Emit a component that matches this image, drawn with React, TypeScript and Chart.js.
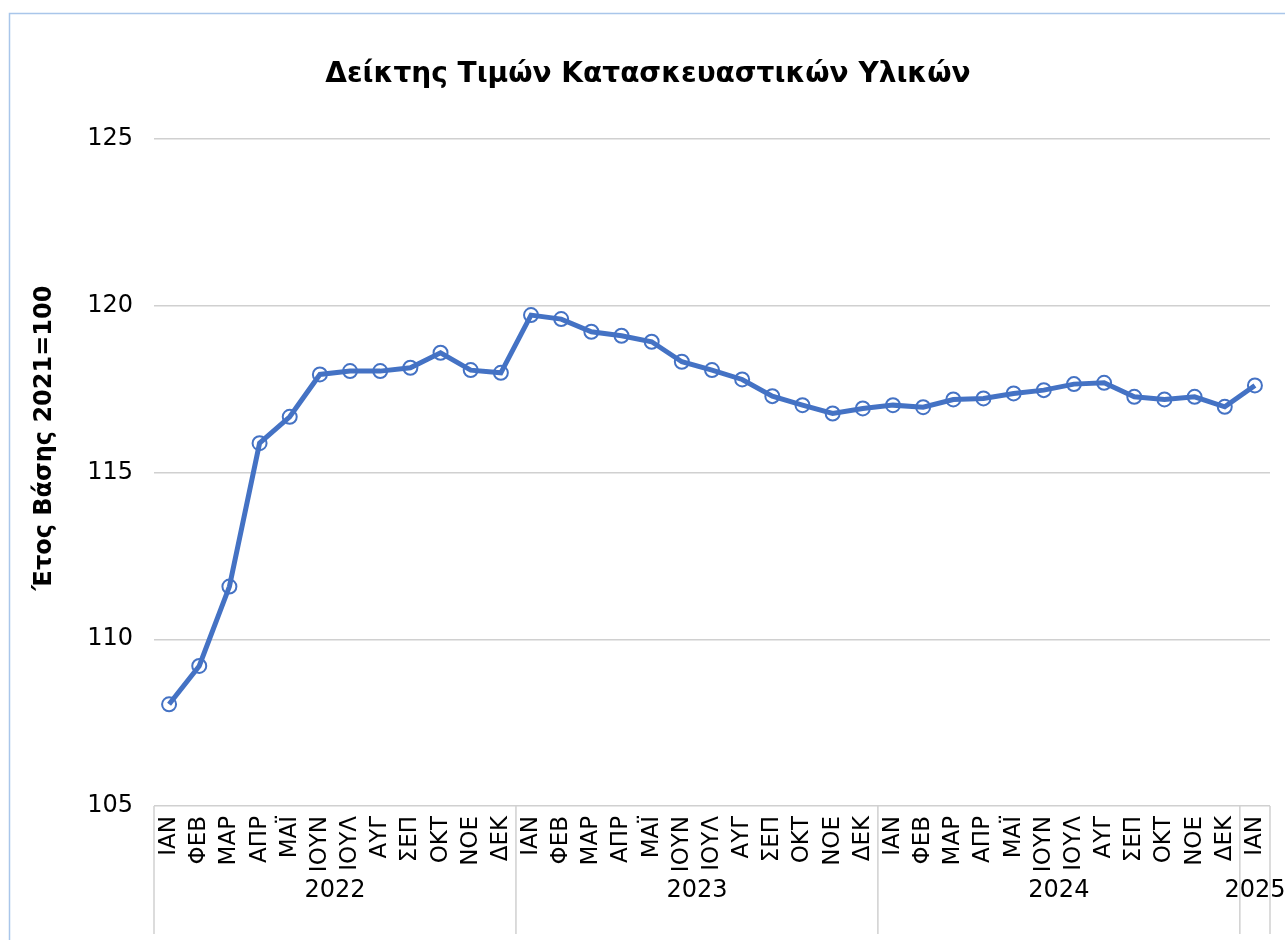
import React, { useEffect, useRef } from "react";
import { Chart, registerables } from "chart.js";

Chart.register(...registerables);

const TITLE = "Δείκτης Τιμών Κατασκευαστικών Υλικών";
const Y_TITLE = "Έτος Βάσης 2021=100";
const MONTHS = ["ΙΑΝ", "ΦΕΒ", "ΜΑΡ", "ΑΠΡ", "ΜΑΪ", "ΙΟΥΝ", "ΙΟΥΛ", "ΑΥΓ", "ΣΕΠ", "ΟΚΤ", "ΝΟΕ", "ΔΕΚ"];
const YEARS = ["2022", "2023", "2024", "2025"];
const MONTHS_PER_YEAR = [12, 12, 12, 1];

const values2022 = [108.05, 109.2, 111.58, 115.88, 116.67, 117.94, 118.04, 118.04, 118.14, 118.59, 118.07, 117.99];
const values2023 = [119.72, 119.6, 119.22, 119.1, 118.92, 118.32, 118.07, 117.79, 117.29, 117.02, 116.77, 116.92];
const values2024 = [117.02, 116.96, 117.19, 117.22, 117.37, 117.47, 117.65, 117.69, 117.27, 117.19, 117.27, 116.97];
const values2025 = [117.61];

const Y_MIN = 105;
const Y_MAX = 125;
const Y_STEP = 5;

const FONT = "'DejaVu Sans', Verdana, sans-serif";
const LINE_COLOR = "#4472C4";

const labels: string[] = [];
YEARS.forEach((_, yi) => {
  for (let m = 0; m < MONTHS_PER_YEAR[yi]; m++) labels.push(MONTHS[m]);
});
const allValues = [...values2022, ...values2023, ...values2024, ...values2025];

const decorPlugin = {
  id: "decor",
  beforeDraw(chart: any) {
    const { ctx, width, height } = chart;
    ctx.save();
    ctx.fillStyle = "#ffffff";
    ctx.fillRect(0, 0, width, height);
    ctx.strokeStyle = "#a9c6ea";
    ctx.lineWidth = 1.5;
    ctx.strokeRect(9.5, 13.5, width + 20, height + 20);
    ctx.restore();
  },
  afterDraw(chart: any) {
    const { ctx, chartArea } = chart;
    ctx.save();
    // y-axis title
    ctx.translate(45, 438);
    ctx.rotate(-Math.PI / 2);
    ctx.font = `bold 24px ${FONT}`;
    ctx.fillStyle = "#000000";
    ctx.textAlign = "center";
    ctx.textBaseline = "middle";
    ctx.fillText(Y_TITLE, 0, 0);
    ctx.restore();

    // year grouping row
    const n = labels.length;
    const w = (chartArea.right - chartArea.left) / n;
    const bottom = 934;
    ctx.save();
    ctx.strokeStyle = "#d0d0d0";
    ctx.lineWidth = 1.5;
    ctx.font = `24px ${FONT}`;
    ctx.fillStyle = "#000000";
    ctx.textAlign = "center";
    ctx.textBaseline = "middle";
    let start = 0;
    const drawV = (x: number) => {
      ctx.beginPath();
      ctx.moveTo(x, chartArea.bottom);
      ctx.lineTo(x, bottom);
      ctx.stroke();
    };
    drawV(chartArea.left);
    YEARS.forEach((yr, yi) => {
      const end = start + MONTHS_PER_YEAR[yi];
      const x0 = chartArea.left + start * w;
      const x1 = chartArea.left + end * w;
      drawV(x1);
      ctx.fillText(yr, (x0 + x1) / 2, 891);
      start = end;
    });
    ctx.restore();
  },
};

export default function App() {
  const canvasRef = useRef<HTMLCanvasElement | null>(null);

  useEffect(() => {
    if (!canvasRef.current) return;
    Chart.defaults.font.family = FONT;
    const chart = new Chart(canvasRef.current, {
      type: "line",
      data: {
        labels,
        datasets: [
          {
            data: allValues,
            borderColor: LINE_COLOR,
            borderWidth: 5,
            pointRadius: 7,
            pointBorderWidth: 2,
            pointBorderColor: LINE_COLOR,
            pointBackgroundColor: "rgba(0,0,0,0)",
            tension: 0,
            fill: false,
          },
        ],
      },
      options: {
        responsive: false,
        animation: false,
        layout: { padding: { left: 26, right: 15, top: 0, bottom: 0 } },
        plugins: {
          legend: { display: false },
          tooltip: { enabled: false },
          title: {
            display: true,
            text: TITLE,
            color: "#000000",
            font: { family: FONT, size: 28, weight: "bold", lineHeight: 1.2 },
            padding: { top: 58, bottom: 47.4 },
          },
        },
        scales: {
          x: {
            type: "category",
            offset: true,
            grid: { display: false, drawTicks: false },
            border: { display: false },
            ticks: {
              autoSkip: false,
              minRotation: 90,
              maxRotation: 90,
              padding: 10,
              color: "#000000",
              font: { family: FONT, size: 23 },
            },
            afterFit: (s: any) => {
              s.height = 134;
              s.paddingLeft = 0;
              s.paddingRight = 0;
            },
          },
          y: {
            min: Y_MIN,
            max: Y_MAX,
            grid: { color: "#d0d0d0", lineWidth: 1.5, drawTicks: false },
            border: { display: false },
            ticks: {
              stepSize: Y_STEP,
              padding: 21,
              color: "#000000",
              font: { family: FONT, size: 24 },
            },
            afterFit: (s: any) => {
              s.width = 128;
            },
          },
        },
      },
      plugins: [decorPlugin],
    });
    return () => chart.destroy();
  }, []);

  return (
    <div style={{ position: "absolute", left: 0, top: 0, width: 1285, height: 940 }}>
      <canvas ref={canvasRef} width={1285} height={940} style={{ display: "block" }} />
    </div>
  );
}
